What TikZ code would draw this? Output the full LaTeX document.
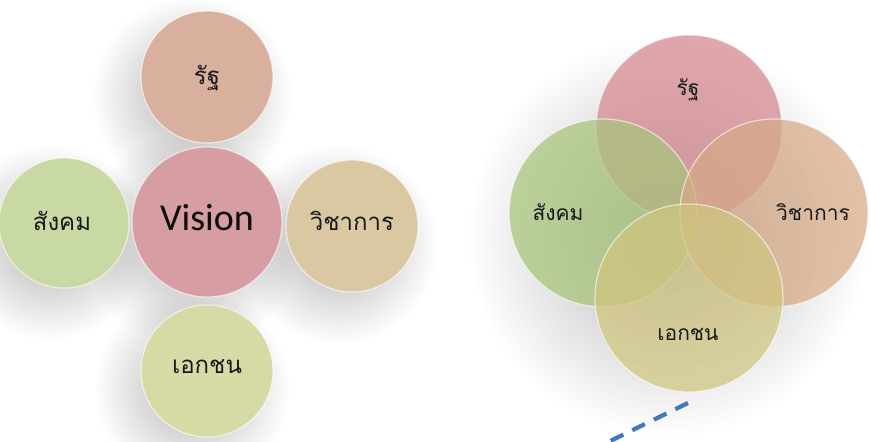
\documentclass[tikz,border=0pt]{standalone}
\usepackage{fontspec}
\newfontfamily\thaifont[Script=Thai]{Loma}
\newfontfamily\latinfont{Carlito}
\usetikzlibrary{fadings}
\tikzfading[name=softdisc, inner color=transparent!0, outer color=transparent!100]
\definecolor{cState}{HTML}{D9B09E}
\definecolor{cVision}{HTML}{D69EA2}
\definecolor{cSocial}{HTML}{C8D9A3}
\definecolor{cAcad}{HTML}{D9C8A1}
\definecolor{cPriv}{HTML}{D8DAA5}
\definecolor{vState}{HTML}{D4868E}
\definecolor{vSocial}{HTML}{A8C47C}
\definecolor{vAcad}{HTML}{D6A987}
\definecolor{vPriv}{HTML}{D0C57E}
\definecolor{dashblue}{HTML}{3F78BE}
\tikzset{
  ball/.style={circle, inner sep=0pt, draw=white, draw opacity=0.6, line width=1.2pt},
  vball/.style={ball, fill opacity=0.72},
  thaitxt/.style={font=\thaifont\fontsize{24}{28}\selectfont, text=black!90, inner sep=0pt},
  thaitxtr/.style={font=\thaifont\fontsize{21}{25}\selectfont, text=black!90, inner sep=0pt},
  visiontxt/.style={font=\latinfont\fontsize{38}{42}\selectfont, text=black!95, inner sep=0pt},
  softshadow/.style={fill=black, opacity=0.3, path fading=softdisc},
  linkline/.style={dashblue, line width=4.2pt, dash pattern=on 14pt off 10pt}
}
\begin{document}
\begin{tikzpicture}[x=1pt,y=-1pt]
\useasboundingbox (0,0) rectangle (871,442);
% ---------- soft shadows (left group)
\fill[softshadow] (192,96) circle (100);
\fill[softshadow] (192,240) circle (110);
\fill[softshadow] (50,242) circle (98);
\fill[softshadow] (338,244) circle (100);
\fill[softshadow] (192,388) circle (98);
% ---------- left group
\node[ball, fill=cState, minimum size=132pt] (s1) at (207,77) {};
\node[ball, fill=cVision, minimum size=150pt] (v1) at (207,222) {};
\node[ball, fill=cSocial, minimum size=130pt] (so1) at (64,223) {};
\node[ball, fill=cAcad, minimum size=132pt] (a1) at (352,226) {};
\node[ball, fill=cPriv, minimum size=132pt] (p1) at (207,371) {};
\node[thaitxt] (ts1) at (207,78) {รัฐ};
\node[visiontxt] (tv1) at (207,218) {Vision};
\node[thaitxt] (tso1) at (62,221) {สังคม};
\node[thaitxt] (ta1) at (352,221) {วิชาการ};
\node[thaitxt] (tp1) at (207,367) {เอกชน};
% ---------- soft shadows (right group)
\fill[softshadow] (668,236) circle (200);
% ---------- right group (Venn)
\node[vball, fill=vState, minimum size=186pt] (s2) at (689,128) {};
\node[vball, fill=vSocial, minimum size=188pt] (so2) at (603,213) {};
\node[vball, fill=vAcad, minimum size=188pt] (a2) at (774,213) {};
\node[vball, fill=vPriv, minimum size=188pt] (p2) at (689,298) {};
\node[thaitxtr] (ts2) at (688,90) {รัฐ};
\node[thaitxtr] (tso2) at (558,212) {สังคม};
\node[thaitxtr] (ta2) at (813,212) {วิชาการ};
\node[thaitxtr] (tp2) at (688,334) {เอกชน};
% ---------- dashed connector
\coordinate (d1) at (688,403);
\coordinate (d2) at (600,446);
\draw[linkline] (d1) -- (d2);
\end{tikzpicture}
\end{document}
